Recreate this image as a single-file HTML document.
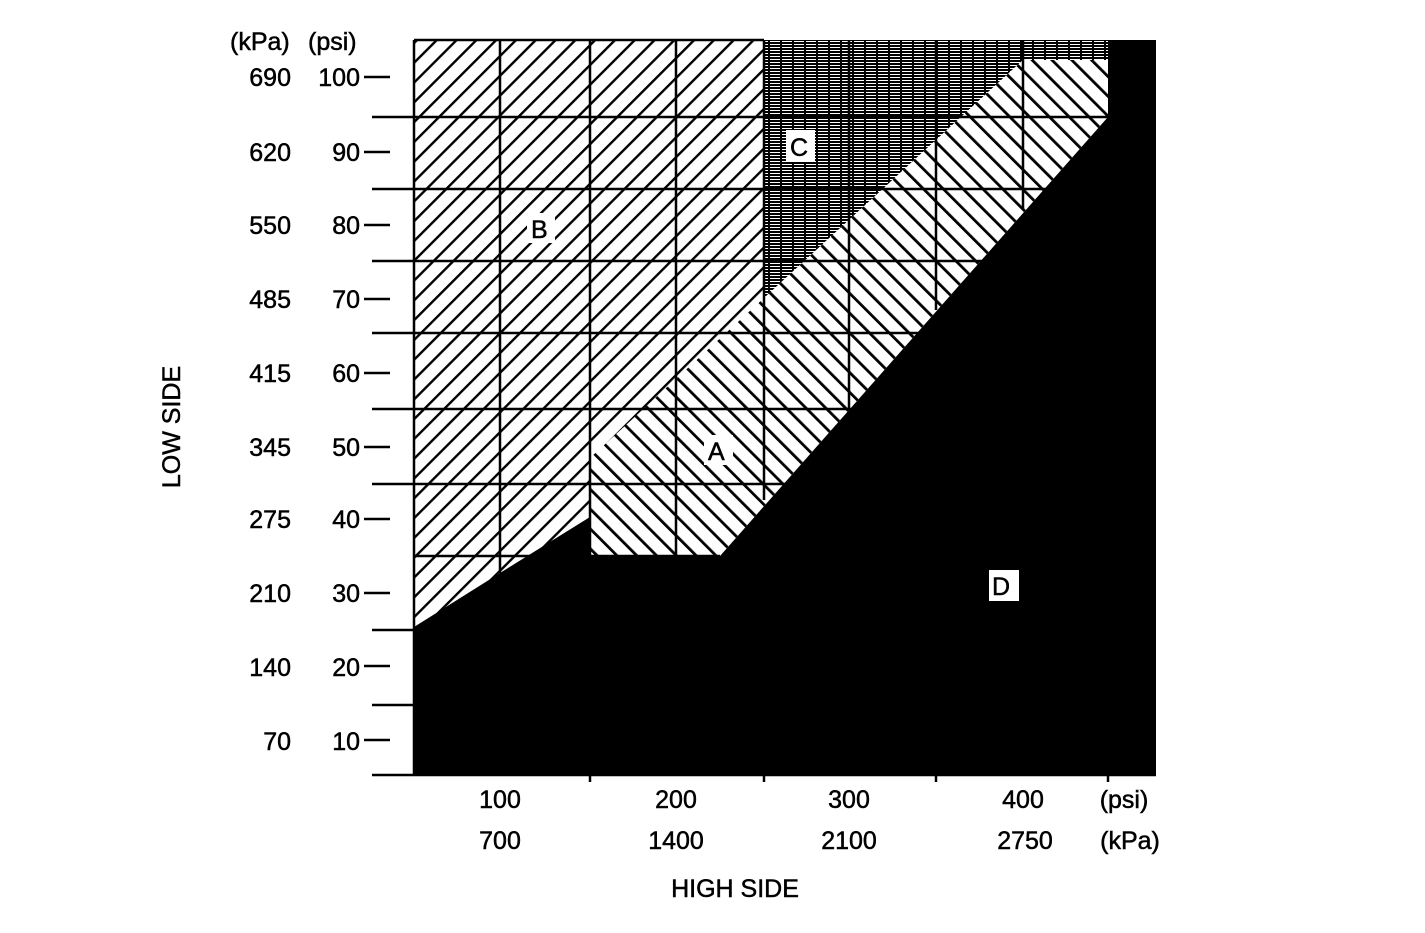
<!DOCTYPE html>
<html><head><meta charset="utf-8"><style>
html,body{margin:0;padding:0;background:#fff;}
svg{display:block;}
text{font-family:"Liberation Sans",Arial,sans-serif;font-size:25px;fill:#000;stroke:#000;stroke-width:0.5;}
</style></head><body>
<svg width="1425" height="933" viewBox="0 0 1425 933" xmlns="http://www.w3.org/2000/svg">
<defs>
<pattern id="pB" patternUnits="userSpaceOnUse" width="14" height="14" patternTransform="rotate(45)">
<rect width="14" height="14" fill="#fff"/><rect x="0" y="0" width="2.4" height="14" fill="#000"/>
</pattern>
<pattern id="pA" patternUnits="userSpaceOnUse" width="14" height="14" patternTransform="rotate(-45)">
<rect width="14" height="14" fill="#fff"/><rect x="0" y="0" width="2.8" height="14" fill="#000"/>
</pattern>
<pattern id="pC" patternUnits="userSpaceOnUse" width="12" height="3">
<rect width="12" height="3" fill="#fff"/><rect x="0" y="0" width="12" height="2" fill="#000"/><rect x="0" y="0" width="2" height="3" fill="#000"/>
</pattern>
</defs>
<rect x="414" y="40" width="350" height="600" fill="url(#pB)"/>
<polygon points="764,40 1108,40 1108,60 1023,60 764,298" fill="url(#pC)"/>
<polygon points="590,458 764,298 1023,60 1108,60 1108,117 720,556 590,556" fill="url(#pA)"/>
<polygon points="414,627 500,573 590,517 590,556 720,556 1108,117 1108,40 1156,40 1156,775 414,775" fill="#000"/>
<g stroke="#000" stroke-width="2.5">
<line x1="414" y1="40" x2="764" y2="40"/>
<line x1="414" y1="40" x2="414" y2="775"/>
<line x1="372" y1="117" x2="1108" y2="117"/>
<line x1="372" y1="189" x2="1060" y2="189"/>
<line x1="372" y1="261" x2="990" y2="261"/>
<line x1="372" y1="333" x2="930" y2="333"/>
<line x1="372" y1="409" x2="860" y2="409"/>
<line x1="372" y1="484" x2="790" y2="484"/>
<line x1="414" y1="556" x2="720" y2="556"/>
<line x1="372" y1="630" x2="414" y2="630"/>
<line x1="372" y1="705" x2="414" y2="705"/>
<line x1="372" y1="775" x2="1156" y2="775"/>
<line x1="500" y1="40" x2="500" y2="573"/>
<line x1="590" y1="40" x2="590" y2="556"/>
<line x1="676" y1="40" x2="676" y2="556"/>
<line x1="764" y1="40" x2="764" y2="500"/>
<line x1="849" y1="40" x2="849" y2="410"/>
<line x1="936" y1="40" x2="936" y2="310"/>
<line x1="1023" y1="40" x2="1023" y2="210"/>
<line x1="590" y1="775" x2="590" y2="782"/>
<line x1="764" y1="775" x2="764" y2="782"/>
<line x1="936" y1="775" x2="936" y2="782"/>
<line x1="1108" y1="775" x2="1108" y2="782"/>
</g>
<g stroke="#000" stroke-width="2.5">
<line x1="364" y1="77" x2="390" y2="77"/><line x1="364" y1="152" x2="390" y2="152"/>
<line x1="364" y1="225" x2="390" y2="225"/><line x1="364" y1="299" x2="390" y2="299"/>
<line x1="364" y1="373" x2="390" y2="373"/><line x1="364" y1="447" x2="390" y2="447"/>
<line x1="364" y1="519" x2="390" y2="519"/><line x1="364" y1="593" x2="390" y2="593"/>
<line x1="364" y1="666" x2="390" y2="666"/><line x1="364" y1="740" x2="390" y2="740"/>
</g>
<rect x="527" y="213" width="28" height="30" fill="#fff"/><text x="531" y="238">B</text>
<rect x="786" y="130" width="29" height="32" fill="#fff"/><text x="790" y="156">C</text>
<rect x="704" y="435" width="29" height="30" fill="#fff"/><text x="708" y="460">A</text>
<rect x="989" y="570" width="30" height="31" fill="#fff"/><text x="992" y="595">D</text>
<text x="230" y="50">(kPa)</text><text x="308" y="50">(psi)</text>
<g text-anchor="end">
<text x="291" y="86">690</text><text x="360" y="86">100</text>
<text x="291" y="161">620</text><text x="360" y="161">90</text>
<text x="291" y="234">550</text><text x="360" y="234">80</text>
<text x="291" y="308">485</text><text x="360" y="308">70</text>
<text x="291" y="382">415</text><text x="360" y="382">60</text>
<text x="291" y="456">345</text><text x="360" y="456">50</text>
<text x="291" y="528">275</text><text x="360" y="528">40</text>
<text x="291" y="602">210</text><text x="360" y="602">30</text>
<text x="291" y="676">140</text><text x="360" y="676">20</text>
<text x="291" y="750">70</text><text x="360" y="750">10</text>
</g>
<g text-anchor="middle">
<text x="500" y="808">100</text><text x="676" y="808">200</text><text x="849" y="808">300</text><text x="1023" y="808">400</text><text x="1124" y="808">(psi)</text>
<text x="500" y="849">700</text><text x="676" y="849">1400</text><text x="849" y="849">2100</text><text x="1025" y="849">2750</text><text x="1130" y="849">(kPa)</text>
<text x="735" y="897" font-size="23">HIGH SIDE</text>
<text transform="translate(180,427) rotate(-90)" font-size="23">LOW SIDE</text>
</g>
</svg>
</body></html>
